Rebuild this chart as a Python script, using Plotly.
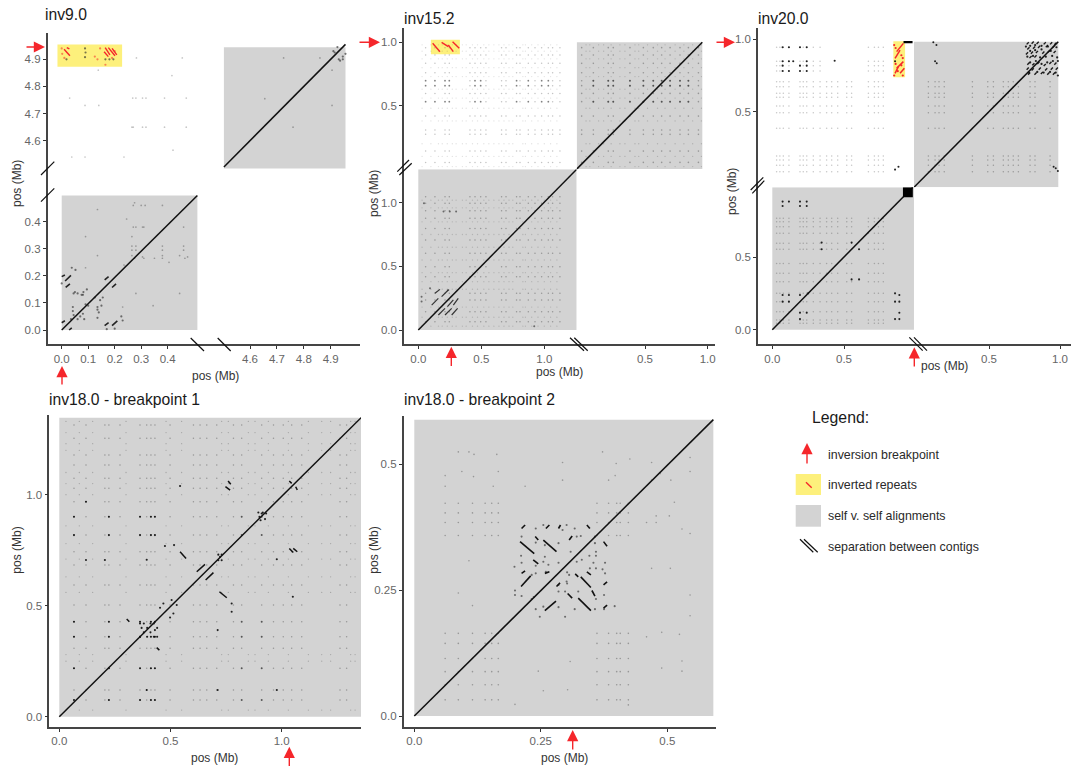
import plotly.graph_objects as go

W, H = 1071, 770
FONT = "Liberation Sans, Arial, sans-serif"
GREY = "#d3d3d3"
YELLOW = "#fdf07c"
RED = "#f5262b"
FAINT = "rgba(70,70,70,0.42)"
MID = "rgba(40,40,40,0.62)"
DARK = "rgba(0,0,0,0.85)"

# ---------- panel 1: inv9.0 ----------
p1_low_rect = [0.0, 0.512, 0.0, 0.497]
p1_up_rect = [4.503, 4.955, 4.498, 4.944]
p1_yellow = [-0.016, 0.228, 4.873, 4.955]
p1_low_diag_x = [0.0, 0.512]
p1_low_diag_y = [0.0, 0.497]
p1_up_diag = [4.503, 4.955]
p1_low_segs = [(0.0,0.197,0.012,0.203),(0.013,0.181,0.035,0.202),(0.015,0.157,0.031,0.17),
               (0.162,0.185,0.177,0.197),(0.19,0.157,0.205,0.17),(0.162,0.016,0.177,0.027),
               (0.19,0.016,0.21,0.034),(0.0,0.027,0.012,0.034),(0.028,0.0,0.038,0.008)]
p1_low_dark = [(.038,.23),(.052,.222),(.045,.135),(.06,.135),(.075,.13),(.095,.15),(.082,.14),(.125,.12),
               (.09,.095),(.1,.09),(.042,.085),(.042,.07),(.045,.055),(.08,.06),(.085,.04),(.06,.04),
               (.135,.075),(.14,.065),(.15,.09),(.135,.045),(.145,.11),(.225,.05),(.23,.035),(.17,.003),
               (.2,.005),(.135,.085),(.08,.13),(.155,.12),(.05,.14),(.0,.172),(.07,.05),(.035,.04)]
p1_low_faint = [(.135,.445),(.09,.345),(.135,.275),(.27,.46),(.275,.47),(.3,.46),(.315,.46),(.38,.46),
                (.27,.38),(.28,.38),(.305,.38),(.31,.38),(.245,.41),(.265,.345),(.265,.31),(.265,.295),
                (.28,.31),(.28,.295),(.38,.31),(.38,.295),(.46,.31),(.46,.295),(.46,.38),(.265,.275),
                (.275,.265),(.305,.27),(.31,.265),(.35,.265),(.38,.275),(.38,.265),(.405,.25),(.445,.275),
                (.465,.265),(.475,.27),(.28,.135),(.445,.135),(.345,.09),(.23,.085),(.09,.23),(.235,.24),(.24,.235)]
p1_up_faint = [(4.725,4.905),(4.86,4.905),(4.905,4.86),(4.655,4.755),(4.905,4.73),(4.76,4.65)]
p1_up_dark = [(4.91,4.93),(4.915,4.925),(4.925,4.945),(4.93,4.9),(4.945,4.91),(4.945,4.9),(4.935,4.895),(4.955,4.92)]
p1_ul_faint = [(.282,4.905),(.455,4.905),(.138,4.86),(.416,4.84),(.03,4.757),(.268,4.757),(.28,4.757),(.305,4.757),
               (.318,4.757),(.388,4.757),(.47,4.757),(.088,4.73),(.14,4.73),(.265,4.65),(.27,4.65),(.305,4.65),
               (.318,4.65),(.388,4.65),(.47,4.65),(.038,4.54),(.088,4.54),(.235,4.54),(.42,4.565)]
p1_red_segs = [(.009,4.937,.031,4.913),(.019,4.943,.029,4.938),(.164,4.943,.182,4.916),(.16,4.928,.176,4.91),
               (.176,4.943,.201,4.913),(.19,4.94,.208,4.916)]
p1_red_dots = [(.0,4.94),(.002,4.92),(.145,4.94),(.135,4.9),(.165,4.88),(.125,4.91),(.19,4.905),(.2,4.93),(.01,4.905)]
p1_yellow_dark = [(.018,4.9),(.088,4.908),(.18,4.9),(.195,4.9),(.165,4.9),(.088,4.94),(.09,4.925)]

# ---------- panel 2: inv15.2 ----------
p2_low_rect = [0.0, 1.257, 0.0, 1.262]
p2_up_rect = [-0.045, 0.957, 0.0, 1.0]
p2_yellow = [0.1, 0.33, 0.905, 1.02]
p2_low_diag_x = [0.0, 1.257]
p2_low_diag_y = [0.0, 1.262]
p2_up_diag_x = [-0.045, 0.957]
p2_up_diag_y = [0.0, 1.0]
p2_cols_left = [.058,.132,.212,.246,.41,.45,.495,.537,.661,.696,.78,.807,.873,.926,.979,1.032,1.066,1.124]
p2_rows_upper = [.958,.9,.834,.76,.697,.658,.597,.532,.418,.308,.274,.142,.053]
p2_rows_lower = [1.047,.995,.937,.877,.798,.707,.602,.497,.419,.288,.236,.144,.065]
p2_cols_right = [-.005,.088,.207,.247,.38,.487,.566,.633,.7,.779,.846,.926]
p2_extra_cols_left = [.03,.1,.16,.19,.23,.27,.3,.35,.38,.43,.47,.52,.56,.6,.64,.68,.72,.75,.83,.85,.9,.95,1.0,1.05,1.1]
p2_extra_rows_upper = [.98,.93,.87,.8,.73,.63,.56,.48,.38,.2,.1,.02]
p2_extra_rows_lower = [1.02,.96,.85,.75,.65,.55,.45,.38,.32,.18,.1,.03]
p2_extra_cols_right = [.03,.06,.13,.17,.23,.3,.34,.42,.45,.52,.6,.66,.74,.81,.88,.95]
p2_hot_rows = [.697,.658,.532]
p2_hot_cols_left = [.058,.132,.212,.246,.45,.495,.78,.873,.979,1.032]
p2_hot_cols_right = [.088,.207,.247,.38,.487,.566,.633,.7,.779,.846]
p2_low_segs = [(.132,.288,.172,.319),(.185,.262,.238,.314),(.106,.196,.159,.249),(.231,.183,.278,.236),
               (.278,.196,.317,.249),(.159,.118,.212,.17),(.212,.118,.265,.17),(.265,.118,.312,.17)]
p2_low_dark = [(.026,.223),(.026,.262),(.093,.327),(.238,.314),(.045,.995),(.2,.93),(.25,.93),(.3,.93),(.92,.03)]
p2_red_segs = [(.114,.992,.172,.926),(.185,1.0,.238,.966),(.238,.979,.278,.926),(.272,1.005,.325,.953)]

# ---------- panel 3: inv20.0 ----------
p3_low_rect = [0.0, 0.988, 0.0, 0.979]
p3_up_rect = [-0.028, 0.988, -0.022, 0.983]
p3_yellow = [0.844, 0.926, 0.738, 0.987]
p3_block = [0.911, 0.98, 0.911, 0.98]
p3_low_diag = [0.0, 0.98]
p3_up_diag_x = [-0.028, 0.988]
p3_up_diag_y = [-0.022, 0.983]
p3_top_dash_x = [0.915, 0.978]
p3_top_dash_y = [0.98, 0.98]
p3_cols_left = [.03,.053,.077,.116,.193,.216,.24,.286,.333,.379,.414,.456,.519,.553,.67,.712,.74,.774]
p3_rows_upper = [.707,.673,.627,.599,.539,.493,.385,.194,.166,.131,.085]
p3_rows_upper_top = [.945,.848,.818,.781]
p3_cols_top = [.03,.053,.077,.116,.193,.216,.24,.286,.333,.67,.712,.74,.774]
p3_rows_lower = [.766,.743,.708,.663,.594,.553,.456,.388,.33,.25,.193,.124,.067,.044]
p3_cols_right = [.073,.12,.148,.185,.383,.491,.531,.601,.636,.671,.707,.789,.824,.93]
p3_low_dark = [(.344,.599),(.344,.553),(.553,.599),(.605,.553),(.553,.346),(.605,.346),(.856,.25),(.886,.239),
               (.856,.193),(.886,.193),(.886,.117),(.856,.073),(.886,.073),(.072,.881),(.116,.881),(.193,.881),
               (.24,.881),(.072,.851),(.193,.851),(.24,.851),(.072,.239),(.116,.239),(.193,.239),(.25,.25),
               (.072,.193),(.116,.193),(.193,.117),(.24,.117),(.193,.073)]
p3_ul_dark = [(.072,.945),(.116,.945),(.193,.945),(.24,.945),(.072,.848),(.072,.818),(.116,.848),(.146,.848),
              (.193,.818),(.24,.848),(.24,.818),(.072,.781),(.116,.781),(.193,.781),(.24,.781),(.435,.852),
              (.856,.848),(.88,.12),(.856,.1)]
p3_ur_dark = [(.108,.98),(.12,.848),(.132,.835),(.13,.96),(.955,.12),(.97,.11),(.985,.09)]
p3_block_segs = [(.765,.965,.78,.98),(.80,.97,.815,.985),(.835,.968,.85,.983),(.885,.965,.9,.98),(.93,.965,.945,.98),
                 (.96,.962,.975,.977),(.77,.93,.785,.945),(.81,.935,.825,.95),(.845,.94,.86,.955),(.90,.945,.915,.96),
                 (.945,.94,.96,.955),(.76,.895,.775,.91),(.795,.90,.81,.915),(.83,.905,.845,.92),(.875,.90,.89,.915),
                 (.915,.91,.93,.925),(.955,.905,.97,.92),(.785,.87,.8,.885),(.82,.875,.835,.89),(.77,.825,.785,.84),
                 (.805,.82,.82,.835),(.84,.83,.855,.845),(.885,.815,.9,.83),(.925,.83,.94,.845),(.96,.825,.975,.84),
                 (.765,.79,.78,.805),(.80,.785,.815,.8),(.85,.79,.865,.805),(.895,.785,.91,.8),(.935,.79,.95,.805),
                 (.97,.79,.985,.805),(.775,.755,.79,.77),(.82,.755,.835,.77),(.865,.76,.88,.775),(.91,.755,.925,.77),
                 (.95,.755,.965,.77)]
p3_block_dots = [(.76,.95),(.79,.955),(.825,.96),(.87,.955),(.915,.95),(.975,.945),(.79,.92),(.825,.925),(.87,.93),
                 (.935,.92),(.77,.88),(.81,.885),(.86,.875),(.9,.88),(.945,.885),(.98,.875),(.79,.84),(.83,.85),
                 (.87,.83),(.91,.84),(.95,.85),(.985,.85),(.78,.77),(.84,.775),(.885,.77),(.93,.775),(.97,.77),(.985,.75)]
p3_red_segs = [(.867,.915,.914,.972),(.856,.869,.891,.926),(.867,.8,.914,.846),(.856,.765,.879,.811),(.891,.765,.921,.8)]
p3_red_dots = [(.85,.96),(.86,.94),(.9,.89),(.91,.87),(.86,.83),(.9,.82),(.875,.78),(.91,.75),(.85,.75)]

# ---------- panel 4: inv18.0 breakpoint 1 ----------
p4_rect = [0.0, 1.357, 0.0, 1.347]
p4_diag_x = [0.0, 1.357]
p4_diag_y = [0.0, 1.347]
p4_cols = [.066,.12,.205,.223,.273,.363,.393,.412,.43,.498,.603,.633,.663,.708,.783,.82,.91,.963,1.007,1.045,1.09,1.262,1.292]
p4_rows = [.075,.12,.218,.308,.36,.428,.503,.593,.683,.743,.818,.901,.968,1.029,1.074,1.134,1.179,1.254,1.314]
p4_cols2 = [.03,.09,.15,.3,.48,.55,.73,.76,.85,.88,.94,1.03,1.12,1.18,1.22,1.31,1.33]
p4_rows2 = [.03,.25,.28,.56,.63,.71,.78,.86,1.0,1.05,1.1,1.2,1.23,1.28,1.33]
p4_dark_cols_a = [.066,.223,.363,.412,.43]
p4_dark_rows_a = [.218,.36,.428,.818,.901,.075]
p4_dark_cols_b = [.82,.91]
p4_dark_rows_b = [.428,.36,.218,.901,.818,.075]
p4_segs = [(.543,.743,.57,.713),(.618,.653,.655,.686),(.658,.616,.693,.649),(.72,.563,.753,.536),
           (.438,.311,.45,.3),(.303,.44,.315,.428),(.759,1.062,.771,1.047),(.747,1.036,.768,1.021),
           (1.034,1.062,1.045,1.051),(1.063,1.036,1.07,1.021),(1.034,.758,1.052,.74),(1.052,.758,1.07,.743)]
p4_dark = [(.543,1.039),(.12,.968),(.393,.707),(.12,.706),(.205,.706),(.475,.769),(.516,.773),(.978,.709),(1.05,.54),
           (.775,.51),(.775,.473),(.453,.491),(.468,.51),(.505,.526),(.528,.503),(.498,.447),(.513,.465),(.712,.39),
           (.712,.12),(.393,.12),(.978,.12),(.723,.72),(.715,.705),(.73,.705),(.715,.73),(.73,.73),
           (.363,.36),(.38,.38),(.395,.36),(.41,.38),(.425,.36),(.44,.36),(.363,.42),(.38,.42),(.395,.4),(.41,.42),
           (.425,.42),(.44,.4),(.37,.4),(.43,.39),(.9,.9),(.91,.915),(.925,.89),(.93,.915),(.905,.885),(.915,.92),(.895,.92)]

# ---------- panel 5: inv18.0 breakpoint 2 ----------
p5_rect = [0.0, 0.591, 0.0, 0.588]
p5_diag_x = [0.0, 0.591]
p5_diag_y = [0.0, 0.588]
p5_segs = [(.209,.346,.237,.322),(.255,.349,.281,.326),(.239,.356,.245,.349),(.235,.31,.245,.302),(.211,.257,.23,.278),
           (.258,.209,.28,.228),(.324,.234,.349,.209),(.303,.243,.312,.234),(.329,.276,.349,.255),(.351,.249,.357,.238),
           (.318,.282,.324,.276),(.341,.286,.349,.28),(.374,.26,.381,.266),(.374,.346,.381,.337),(.341,.379,.347,.372),
           (.285,.372,.289,.379),(.26,.372,.267,.379),(.212,.372,.219,.379),(.306,.349,.312,.357),(.258,.283,.267,.286),
           (.212,.283,.219,.288),(.281,.257,.288,.264),(.374,.214,.381,.22)]
p5_dots = [(.212,.356),(.211,.318),(.212,.304),(.198,.296),(.199,.249),(.199,.24),(.212,.238),(.236,.236),(.232,.232),
           (.24,.212),(.248,.197),(.255,.217),(.285,.216),(.298,.197),(.317,.212),(.357,.212),(.375,.212),(.396,.218),
           (.359,.232),(.375,.24),(.324,.247),(.298,.247),(.285,.247),(.347,.293),(.359,.293),(.377,.283),(.372,.291),
           (.359,.318),(.359,.326),(.346,.318),(.377,.304),(.354,.304),(.321,.306),(.309,.326),(.331,.31),(.255,.306),
           (.24,.298),(.265,.3),(.258,.316),(.285,.304),(.258,.339),(.24,.344),(.24,.372),(.255,.379),(.301,.379),
           (.317,.372),(.293,.369),(.321,.356),(.329,.357),(.357,.356),(.357,.343),(.285,.343),(.306,.28),(.302,.263),
           (.302,.285),(.285,.26),(.26,.286),(.24,.283),(.232,.28),(.301,.267)]
p5_cols_a = [.061,.087,.115,.14,.153,.166]
p5_cols_b = [.361,.384,.4,.407,.423]
p5_rows_a = [.422,.403,.384,.358]
p5_rows_b = [.164,.144,.114,.088,.062,.032]
p5_faint = [(.087,.524),(.108,.524),(.118,.519),(.163,.519),(.061,.477),(.061,.456),(.094,.485),(.117,.475),(.166,.485),
            (.156,.456),(.219,.456),(.293,.503),(.293,.468),(.372,.524),(.399,.501),(.397,.477),(.384,.468),(.426,.51),
            (.469,.503),(.486,.481),(.507,.468),(.469,.468),(.545,.513),(.545,.485),(.514,.424),(.504,.397),(.478,.397),
            (.459,.384),(.478,.384),(.529,.371),(.545,.362),(.469,.293),(.506,.293),(.545,.24),(.545,.199),(.489,.166),
            (.524,.162),(.459,.157),(.529,.109),(.529,.089),(.489,.095),(.108,.308),(.087,.244),(.115,.219),(.308,.108),
            (.245,.089),(.255,.05),(.303,.052),(.199,.023),(.423,.022)]

# ---------- text ----------
titles = ["inv9.0", "inv15.2", "inv20.0", "inv18.0 - breakpoint 1", "inv18.0 - breakpoint 2"]
axis_label = "pos (Mb)"
legend_title = "Legend:"
legend_items = ["inversion breakpoint", "inverted repeats", "self v. self alignments", "separation between contigs"]

# ---------- page layout helpers (pixel frame -> paper fractions) ----------
def fx(p): return p / W
def fy(p): return 1 - p / H

fig = go.Figure()
layout = {}

def axis_range(a_px, b_px, v0, p0, v1, p1):
    k = (v1 - v0) / (p1 - p0)
    return [v0 + (a_px - p0) * k, v0 + (b_px - p0) * k]

def add_axis(kind, idx, dom_px, cal, vals, labels, anchor):
    name = f"{kind}axis{'' if idx == 1 else idx}"
    rng = axis_range(dom_px[0], dom_px[1], *cal)
    dom = [fx(dom_px[0]), fx(dom_px[1])] if kind == "x" else [fy(dom_px[0]), fy(dom_px[1])]
    layout[name] = dict(domain=dom, range=rng, anchor=anchor, showgrid=False, zeroline=False,
                        showline=True, linecolor="#454545", linewidth=1.6, ticks="outside", ticklen=3,
                        tickwidth=1, tickcolor="#333333", tickmode="array", tickvals=vals, ticktext=labels,
                        tickfont=dict(family=FONT, size=11.5, color="#666666"))

T1 = [0.0, 0.1, 0.2, 0.3, 0.4]; T1L = ["0.0", "0.1", "0.2", "0.3", "0.4"]
T2 = [4.6, 4.7, 4.8, 4.9]; T2L = ["4.6", "4.7", "4.8", "4.9"]
add_axis("x", 1, (47.7, 210.5), (0, 61.7, 0.4, 167.7), T1, T1L, "y")
add_axis("x", 2, (210.5, 360), (4.6, 250, 4.9, 330.7), T2, T2L, "y")
add_axis("y", 1, (344, 181), (0, 330, 0.4, 221.7), T1, T1L, "x")
add_axis("y", 2, (181, 33), (4.6, 140.7, 4.9, 59.3), T2, T2L, "x")
add_axis("x", 3, (404, 576.7), (0, 418.3, 1.0, 544.3), [0, .5, 1], ["0.0", "0.5", "1.0"], "y3")
add_axis("x", 4, (576.7, 715), (0.5, 645, 1.0, 707.7), [.5, 1], ["0.5", "1.0"], "y3")
add_axis("y", 3, (344, 169.3), (0, 330, 1.0, 202.7), [0, .5, 1], ["0.0", "0.5", "1.0"], "x3")
add_axis("y", 4, (169.3, 28), (0.5, 105.7, 1.0, 42.3), [.5, 1], ["0.5", "1.0"], "x3")
add_axis("x", 5, (758, 914), (0, 772.3, 0.5, 844), [0, .5], ["0.0", "0.5"], "y5")
add_axis("x", 6, (914, 1071), (0.5, 989, 1.0, 1060), [.5, 1], ["0.5", "1.0"], "y5")
add_axis("y", 5, (344, 187.3), (0, 329.7, 0.5, 257), [0, .5], ["0.0", "0.5"], "x5")
add_axis("y", 6, (187.3, 28), (0.5, 111.7, 1.0, 39.3), [.5, 1], ["0.5", "1.0"], "x5")
add_axis("x", 7, (49.3, 361), (0, 59.3, 1.0, 281.7), [0, .5, 1], ["0.0", "0.5", "1.0"], "y7")
add_axis("y", 7, (726.7, 415), (0, 716.7, 1.0, 494.7), [0, .5, 1], ["0.0", "0.5", "1.0"], "x7")
add_axis("x", 8, (403.7, 715.7), (0, 414.3, 0.5, 667.3), [0, .25, .5], ["0.0", "0.25", "0.5"], "y8")
add_axis("y", 8, (726.7, 415.7), (0, 716, 0.5, 464), [0, .25, .5], ["0.0", "0.25", "0.5"], "x8")

shapes, annots = [], []

def rect(r, xa, ya, color):
    shapes.append(dict(type="rect", xref=xa, yref=ya, x0=r[0], x1=r[1], y0=r[2], y1=r[3],
                       fillcolor=color, line=dict(width=0), layer="below"))

def pts(p, xa, ya, color, size):
    fig.add_trace(go.Scatter(x=[a[0] for a in p], y=[a[1] for a in p], xaxis=xa, yaxis=ya, mode="markers",
                             marker=dict(color=color, size=size, line=dict(width=0)),
                             showlegend=False, hoverinfo="skip", cliponaxis=False))

def segs(s, xa, ya, color, width):
    xs, ys = [], []
    for a in s:
        xs += [a[0], a[2], None]; ys += [a[1], a[3], None]
    fig.add_trace(go.Scatter(x=xs, y=ys, xaxis=xa, yaxis=ya, mode="lines", line=dict(color=color, width=width),
                             showlegend=False, hoverinfo="skip"))

def diag(x, y, xa, ya):
    fig.add_trace(go.Scatter(x=x, y=y, xaxis=xa, yaxis=ya, mode="lines", line=dict(color="#111111", width=1.5),
                             showlegend=False, hoverinfo="skip"))

def cross(cols, rows):
    return [(c, r) for c in cols for r in rows]

# panel 1
rect(p1_low_rect, "x", "y", GREY); rect(p1_up_rect, "x2", "y2", GREY); rect(p1_yellow, "x", "y2", YELLOW)
pts(p1_low_faint, "x", "y", FAINT, 1.7); pts(p1_low_dark, "x", "y", MID, 2.2)
segs(p1_low_segs, "x", "y", "#222222", 1.6)
pts(p1_up_faint, "x2", "y2", FAINT, 1.7); pts(p1_up_dark, "x2", "y2", MID, 2.2)
pts(p1_ul_faint, "x", "y2", "rgba(70,70,70,0.3)", 1.7)
pts(p1_red_dots, "x", "y2", "rgba(245,60,50,0.6)", 2.2); pts(p1_yellow_dark, "x", "y2", MID, 2.2)
segs(p1_red_segs, "x", "y2", RED, 1.4)
diag(p1_low_diag_x, p1_low_diag_y, "x", "y"); diag(p1_up_diag, p1_up_diag, "x2", "y2")

# panel 2
rect(p2_low_rect, "x3", "y3", GREY); rect(p2_up_rect, "x4", "y4", GREY); rect(p2_yellow, "x3", "y4", YELLOW)
pts(cross(p2_extra_cols_left, p2_extra_rows_lower), "x3", "y3", "rgba(70,70,70,0.22)", 1.3)
pts(cross(p2_extra_cols_left, p2_extra_rows_upper), "x3", "y4", "rgba(70,70,70,0.16)", 1.3)
pts(cross(p2_extra_cols_right, p2_extra_rows_upper), "x4", "y4", "rgba(70,70,70,0.25)", 1.3)
pts(cross(p2_cols_left, p2_rows_lower), "x3", "y3", FAINT, 1.5)
pts(cross(p2_cols_left, p2_rows_upper), "x3", "y4", "rgba(70,70,70,0.32)", 1.5)
pts(cross(p2_cols_right, p2_rows_upper), "x4", "y4", FAINT, 1.6)
pts(cross(p2_hot_cols_left, p2_hot_rows), "x3", "y4", "rgba(40,40,40,0.45)", 1.8)
pts(cross(p2_hot_cols_right, p2_hot_rows), "x4", "y4", MID, 2)
segs(p2_low_segs, "x3", "y3", "#333333", 1.2); pts(p2_low_dark, "x3", "y3", MID, 2)
segs(p2_red_segs, "x3", "y4", RED, 1.4)
diag(p2_low_diag_x, p2_low_diag_y, "x3", "y3"); diag(p2_up_diag_x, p2_up_diag_y, "x4", "y4")

# panel 3
rect(p3_low_rect, "x5", "y5", GREY); rect(p3_up_rect, "x6", "y6", GREY); rect(p3_yellow, "x5", "y6", YELLOW)
pts(cross(p3_cols_left, p3_rows_lower), "x5", "y5", "rgba(70,70,70,0.33)", 1.5)
pts(cross(p3_cols_left, p3_rows_upper), "x5", "y6", "rgba(70,70,70,0.3)", 1.5)
pts(cross(p3_cols_top, p3_rows_upper_top), "x5", "y6", "rgba(70,70,70,0.3)", 1.5)
pts(cross(p3_cols_right, p3_rows_upper), "x6", "y6", "rgba(70,70,70,0.4)", 1.5)
pts(p3_low_dark, "x5", "y5", DARK, 2.1); pts(p3_ul_dark, "x5", "y6", DARK, 2.1); pts(p3_ur_dark, "x6", "y6", DARK, 2)
segs(p3_block_segs, "x6", "y6", "#1a1a1a", 1.4); pts(p3_block_dots, "x6", "y6", DARK, 2.2)
rect(p3_block, "x5", "y5", "#000000")
shapes[-1]["layer"] = "above"
pts(p3_red_dots, "x5", "y6", RED, 2.2); segs(p3_red_segs, "x5", "y6", RED, 1.5)
fig.add_trace(go.Scatter(x=p3_top_dash_x, y=p3_top_dash_y, xaxis="x5", yaxis="y6", mode="lines",
                         line=dict(color="#000000", width=2.2), showlegend=False, hoverinfo="skip"))
diag(p3_low_diag, p3_low_diag, "x5", "y5"); diag(p3_up_diag_x, p3_up_diag_y, "x6", "y6")

# panel 4
rect(p4_rect, "x7", "y7", GREY)
pts(cross(p4_cols2, p4_rows2), "x7", "y7", "rgba(70,70,70,0.32)", 1.3)
pts(cross(p4_cols, p4_rows), "x7", "y7", FAINT, 1.5)
pts(cross(p4_dark_cols_a, p4_dark_rows_a), "x7", "y7", DARK, 2.1)
pts(cross(p4_dark_cols_b, p4_dark_rows_b), "x7", "y7", MID, 2)
pts(p4_dark, "x7", "y7", DARK, 2.1); segs(p4_segs, "x7", "y7", "#111111", 1.5)
diag(p4_diag_x, p4_diag_y, "x7", "y7")

# panel 5
rect(p5_rect, "x8", "y8", GREY)
for c, r in [(p5_cols_a, p5_rows_a), (p5_cols_b, p5_rows_a), (p5_cols_a, p5_rows_b), (p5_cols_b, p5_rows_b)]:
    pts(cross(c, r), "x8", "y8", FAINT, 1.6)
pts(p5_faint, "x8", "y8", FAINT, 1.6)
pts(p5_dots, "x8", "y8", MID, 2.1); segs(p5_segs, "x8", "y8", "#111111", 1.6)
diag(p5_diag_x, p5_diag_y, "x8", "y8")

# ---------- page furniture in pixel frame ----------
def text(s, x, y, size, color="#1a1a1a", angle=0, anchor="left"):
    annots.append(dict(text=s, xref="paper", yref="paper", x=fx(x), y=fy(y), showarrow=False, xanchor=anchor,
                       yanchor="middle", textangle=angle, font=dict(family=FONT, size=size, color=color)))

def arrow(x0, y0, x1, y1):
    annots.append(dict(text="", xref="paper", yref="paper", axref="pixel", ayref="pixel", x=fx(x1), y=fy(y1),
                       ax=x0 - x1, ay=y0 - y1, showarrow=True, arrowhead=2, arrowsize=1.6, arrowwidth=1.4,
                       arrowcolor=RED))

def slash(x0, y0, x1, y1, w=1.2, color="#111111"):
    shapes.append(dict(type="line", xref="paper", yref="paper", x0=fx(x0), y0=fy(y0), x1=fx(x1), y1=fy(y1),
                       line=dict(color=color, width=w), layer="above"))

for s, x, y in zip(titles, [43, 402, 756, 47, 402], [15, 18, 18, 400, 400]):
    text(s, x, y, 15.7)
for x, y in [(215, 376), (559, 371.5), (944, 366), (214.7, 758), (564.3, 758)]:
    text(axis_label, x, y, 12, "#333333", anchor="center")
for x, y in [(17, 184), (374, 194), (732, 192), (17, 550.7), (374, 550.7)]:
    text(axis_label, x, y, 12, "#333333", angle=-90, anchor="center")

for a in [(25, 47, 45, 47), (62, 386, 62, 366), (358, 42.3, 380, 42.3), (451.3, 367.5, 451.3, 346.7),
          (715, 42.3, 735, 42.3), (914.3, 368, 914.3, 347.3), (289.3, 767.5, 289.3, 746.7),
          (572.7, 751, 572.7, 730), (807, 465, 807, 443)]:
    arrow(*a)

for a in [(41, 175, 54.3, 161.7), (41, 201.7, 54.3, 188.3), (190.7, 338, 204, 351), (217.7, 338, 230.7, 351),
          (397.3, 171.7, 409, 160), (399.3, 175, 411.7, 163.3), (570, 337.7, 584, 350.7), (574.3, 337.7, 587.7, 350.7),
          (750.7, 190, 763.3, 177.3), (752.3, 193.3, 764.3, 180.7), (909.3, 337.3, 922.7, 350.7), (914, 337.3, 927, 350.7),
          (800, 539.3, 813.3, 552.3), (804, 539.3, 817.7, 552.3)]:
    slash(*a)

# legend
for (y0, y1), c in zip([(474, 495), (505, 526.7)], [YELLOW, GREY]):
    shapes.append(dict(type="rect", xref="paper", yref="paper", x0=fx(795.7), x1=fx(821), y0=fy(y0), y1=fy(y1),
                       fillcolor=c, line=dict(width=0), layer="above"))
slash(806, 482.3, 811.7, 487.7, 1.4, RED)
text(legend_title, 810, 417, 15.8)
for s, y in zip(legend_items, [455, 485, 516, 547]):
    text(s, 826.3, y, 12.4, "#2a2a2a")

fig.update_layout(width=W, height=H, margin=dict(l=0, r=0, t=0, b=0), paper_bgcolor="white", plot_bgcolor="white",
                  shapes=shapes, annotations=annots, showlegend=False, **layout)
fig.write_html("out.html", config={"displayModeBar": False}, post_script="document.body.style.margin='0';")
